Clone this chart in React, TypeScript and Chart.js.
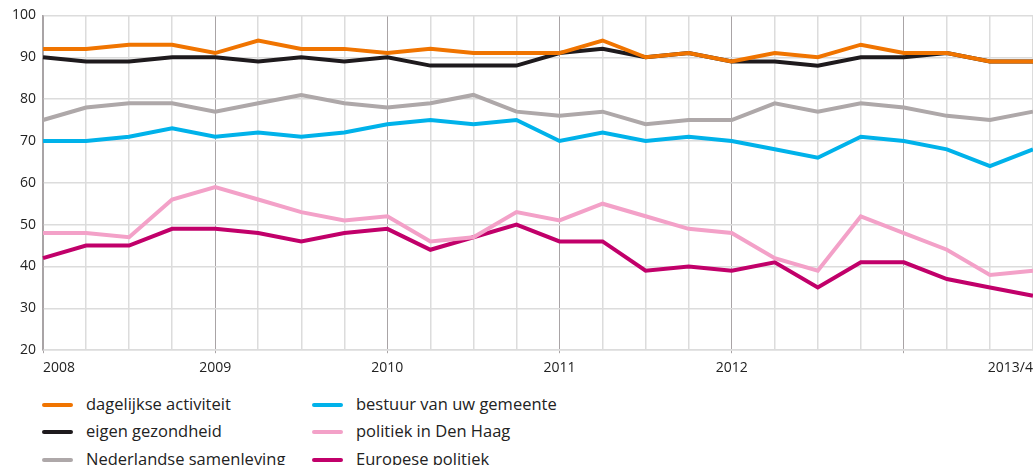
import React, { useEffect, useRef } from "react";
import { Chart, registerables } from "chart.js";

Chart.register(...registerables);

// Quarterly periods 2008 Q1 .. 2013 Q4
const periods = [
  "2008 K1", "2008 K2", "2008 K3", "2008 K4",
  "2009 K1", "2009 K2", "2009 K3", "2009 K4",
  "2010 K1", "2010 K2", "2010 K3", "2010 K4",
  "2011 K1", "2011 K2", "2011 K3", "2011 K4",
  "2012 K1", "2012 K2", "2012 K3", "2012 K4",
  "2013 K1", "2013 K2", "2013 K3", "2013 K4",
];

const xTickLabels = [
  "2008", "", "", "",
  "2009", "", "", "",
  "2010", "", "", "",
  "2011", "", "", "",
  "2012", "", "", "",
  "", "", "", "2013/4",
];

const yTicks = [20, 30, 40, 50, 60, 70, 80, 90, 100];

const seriesNames = [
  "dagelijkse activiteit",
  "eigen gezondheid",
  "Nederlandse samenleving",
  "bestuur van uw gemeente",
  "politiek in Den Haag",
  "Europese politiek",
];

const seriesColors = ["#f07400", "#1e1a1d", "#aea8a9", "#00b2ea", "#f3a1c8", "#c1006a"];

const dagelijkseActiviteit = [92, 92, 93, 93, 91, 94, 92, 92, 91, 92, 91, 91, 91, 94, 90, 91, 89, 91, 90, 93, 91, 91, 89, 89];
const eigenGezondheid = [90, 89, 89, 90, 90, 89, 90, 89, 90, 88, 88, 88, 91, 92, 90, 91, 89, 89, 88, 90, 90, 91, 89, 89];
const nederlandseSamenleving = [75, 78, 79, 79, 77, 79, 81, 79, 78, 79, 81, 77, 76, 77, 74, 75, 75, 79, 77, 79, 78, 76, 75, 77];
const bestuurGemeente = [70, 70, 71, 73, 71, 72, 71, 72, 74, 75, 74, 75, 70, 72, 70, 71, 70, 68, 66, 71, 70, 68, 64, 68];
const politiekDenHaag = [48, 48, 47, 56, 59, 56, 53, 51, 52, 46, 47, 53, 51, 55, 52, 49, 48, 42, 39, 52, 48, 44, 38, 39];
const europesePolitiek = [42, 45, 45, 49, 49, 48, 46, 48, 49, 44, 47, 50, 46, 46, 39, 40, 39, 41, 35, 41, 41, 37, 35, 33];

const seriesValues = [
  dagelijkseActiviteit,
  eigenGezondheid,
  nederlandseSamenleving,
  bestuurGemeente,
  politiekDenHaag,
  europesePolitiek,
];

const FONT = "'Open Sans', 'Noto Sans', sans-serif";
const LIGHT = "#dcdcdc";
const DARK = "#a9a4a6";

export default function App() {
  const canvasRef = useRef<HTMLCanvasElement | null>(null);

  useEffect(() => {
    if (!canvasRef.current) return;
    const chart = new Chart(canvasRef.current, {
      type: "line",
      data: {
        labels: periods,
        datasets: seriesNames.map((name, i) => ({
          label: name,
          data: seriesValues[i],
          borderColor: seriesColors[i],
          backgroundColor: seriesColors[i],
          borderWidth: 4,
          pointRadius: 0,
          pointHoverRadius: 0,
          tension: 0,
          fill: false,
          order: i,
        })),
      },
      options: {
        animation: false,
        responsive: true,
        maintainAspectRatio: false,
        layout: { padding: { top: 2, right: 0, left: 0, bottom: 0 } },
        plugins: {
          legend: { display: false },
          tooltip: { enabled: false },
        },
        scales: {
          x: {
            type: "category",
            offset: false,
            grid: {
              color: (ctx: any) => (ctx.index % 4 === 0 ? DARK : LIGHT),
              lineWidth: (ctx: any) => (ctx.index % 4 === 0 ? 1 : 1.5),
              tickColor: (ctx: any) => (ctx.index % 4 === 0 ? DARK : "rgba(0,0,0,0)"),
              tickLength: 3,
              drawTicks: true,
            },
            border: { color: LIGHT, width: 1.5 },
            ticks: {
              autoSkip: false,
              maxRotation: 0,
              minRotation: 0,
              align: "inner",
              padding: 6,
              color: "#222",
              font: { family: FONT, size: 14 },
              callback: (_v: any, i: number) => xTickLabels[i],
            },
          },
          y: {
            min: yTicks[0],
            max: yTicks[yTicks.length - 1],
            afterFit: (scale: any) => {
              scale.width = 43;
            },
            afterBuildTicks: (scale: any) => {
              scale.ticks = yTicks.map((v) => ({ value: v }));
            },
            grid: { color: LIGHT, lineWidth: 1.5, drawTicks: false },
            border: { color: DARK, width: 1.5 },
            ticks: {
              padding: 7,
              color: "#222",
              font: { family: FONT, size: 14 },
            },
          },
        },
      },
    });
    return () => chart.destroy();
  }, []);

  const legendCols = [
    { lineX: 42, textX: 86 },
    { lineX: 312, textX: 356 },
  ];
  const rowY = [405, 432, 460];

  return (
    <div
      style={{
        position: "absolute",
        left: 0,
        top: 0,
        width: 1033,
        height: 465,
        overflow: "hidden",
        background: "#fff",
        fontFamily: FONT,
      }}
    >
      <div style={{ position: "absolute", left: 0, top: 0, width: 1039, height: 382 }}>
        <canvas ref={canvasRef} />
      </div>
      {seriesNames.map((name, i) => {
        const col = legendCols[Math.floor(i / 3)];
        const y = rowY[i % 3];
        return (
          <React.Fragment key={name}>
            <div
              style={{
                position: "absolute",
                left: col.lineX,
                top: y - 2,
                width: 31,
                height: 4,
                borderRadius: 2,
                background: seriesColors[i],
              }}
            />
            <div
              style={{
                position: "absolute",
                left: col.textX,
                top: y - 13,
                height: 24,
                lineHeight: "24px",
                fontSize: 16.5,
                color: "#222",
                whiteSpace: "nowrap",
              }}
            >
              {name}
            </div>
          </React.Fragment>
        );
      })}
    </div>
  );
}
